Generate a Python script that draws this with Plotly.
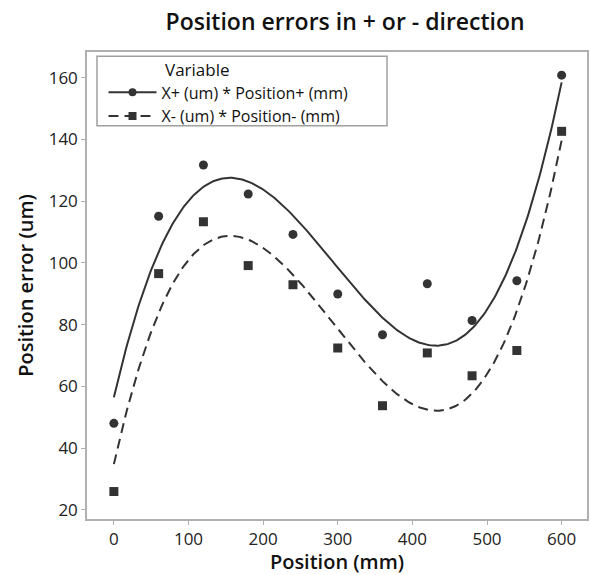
import numpy as np
import plotly.graph_objects as go

positions = [0, 60, 120, 180, 240, 300, 360, 420, 480, 540, 600]
x_plus = [48.0, 115.1, 131.7, 122.3, 109.2, 89.9, 76.7, 93.2, 81.3, 94.2, 160.8]
x_minus = [25.9, 96.5, 113.3, 99.1, 92.9, 72.4, 53.7, 70.8, 63.4, 71.6, 142.6]

name_plus = "X+ (um) * Position+ (mm)"
name_minus = "X- (um) * Position- (mm)"
legend_title = "Variable"

col = "#333333"
font = "Open Sans"
dash = "10px,6px"

# cubic regression fits (as drawn by the original software)
xf = np.linspace(0, 600, 301)
fit_plus = np.polyval(np.polyfit(positions, x_plus, 3), xf)
fit_minus = np.polyval(np.polyfit(positions, x_minus, 3), xf)

fig = go.Figure()
fig.add_trace(go.Scatter(x=xf, y=fit_plus, mode="lines", line=dict(color=col, width=2),
                         showlegend=False, hoverinfo="skip"))
fig.add_trace(go.Scatter(x=xf, y=fit_minus, mode="lines", line=dict(color=col, width=2, dash=dash),
                         showlegend=False, hoverinfo="skip"))
fig.add_trace(go.Scatter(x=positions, y=x_plus, mode="markers",
                         marker=dict(symbol="circle", size=9, color=col), showlegend=False))
fig.add_trace(go.Scatter(x=positions, y=x_minus, mode="markers",
                         marker=dict(symbol="square", size=9, color=col), showlegend=False))
# legend entries
fig.add_trace(go.Scatter(x=[None], y=[None], mode="lines+markers", name=name_plus,
                         line=dict(color=col, width=2), marker=dict(symbol="circle", size=8, color=col)))
fig.add_trace(go.Scatter(x=[None], y=[None], mode="lines+markers", name=name_minus,
                         line=dict(color=col, width=2, dash=dash), marker=dict(symbol="square", size=8, color=col)))

axis_common = dict(showline=True, linecolor="#b0b0b0", linewidth=1.5, mirror=True,
                   ticks="outside", ticklen=4, tickcolor="#b0b0b0", showgrid=False, zeroline=False,
                   tickfont=dict(family=font, size=17, color="#222222"))

# legend frame (plot-area fraction coordinates)
fig.add_shape(type="rect", xref="paper", yref="paper", x0=0.02, x1=0.6, y0=0.842, y1=0.991,
              line=dict(color="#a0a0a0", width=1.5), fillcolor="white", layer="above")
fig.add_annotation(text=legend_title, xref="paper", yref="paper", x=0.151, y=0.962,
                   xanchor="left", yanchor="middle", showarrow=False,
                   font=dict(family=font, size=17, color="#111111"))

fig.update_layout(
    width=591, height=575,
    margin=dict(l=87, r=2, t=52, b=56),
    paper_bgcolor="white", plot_bgcolor="white",
    title=dict(text="Position errors in + or - direction", x=0.584, xanchor="center",
               y=0.962, yanchor="middle", font=dict(family=font, size=23, color="#111111", weight=600)),
    xaxis=dict(range=[-36, 634], tickvals=[0, 100, 200, 300, 400, 500, 600],
               title=dict(text="Position (mm)", font=dict(family=font, size=20, color="#111111", weight=600),
                          standoff=9),
               **axis_common),
    yaxis=dict(range=[17, 168.3], tickvals=[20, 40, 60, 80, 100, 120, 140, 160],
               title=dict(text="Position error (um)", font=dict(family=font, size=20, color="#111111", weight=600),
                          standoff=10),
               **axis_common),
    legend=dict(x=0.033, y=0.95, xanchor="left", yanchor="top",
                bgcolor="rgba(0,0,0,0)", borderwidth=0,
                font=dict(family=font, size=16, color="#111111"),
                tracegroupgap=0, itemwidth=48),
)

fig.write_html("out.html")
